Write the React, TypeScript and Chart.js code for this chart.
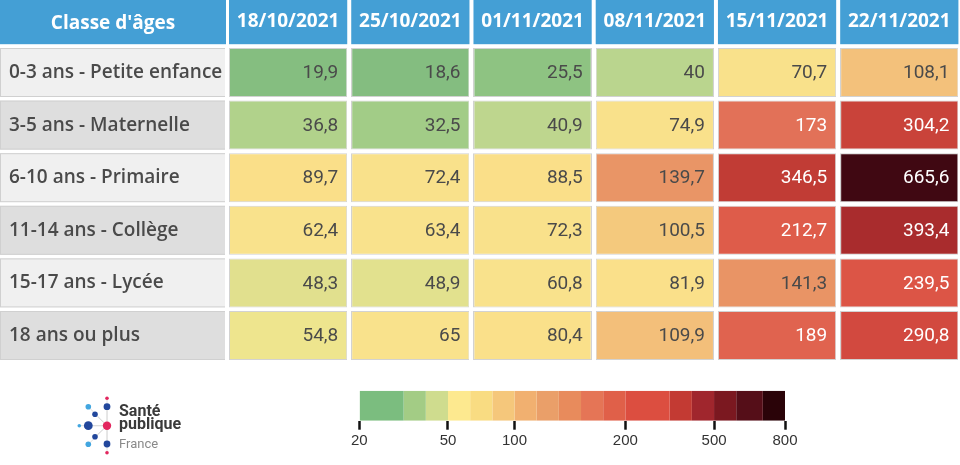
import React, { useEffect, useRef } from 'react';
import { Chart, registerables } from 'chart.js';

Chart.register(...registerables);

// ---------- DATA ----------
const headerLabel = "Classe d'âges";
const weeks = ['18/10/2021', '25/10/2021', '01/11/2021', '08/11/2021', '15/11/2021', '22/11/2021'];
const ageGroups = [
  '0-3 ans - Petite enfance',
  '3-5 ans - Maternelle',
  '6-10 ans - Primaire',
  '11-14 ans - Collège',
  '15-17 ans - Lycée',
  '18 ans ou plus',
];
// incidence rate per age group (same order as ageGroups), one list per week
const rate_18_10 = [19.9, 36.8, 89.7, 62.4, 48.3, 54.8];
const rate_25_10 = [18.6, 32.5, 72.4, 63.4, 48.9, 65];
const rate_01_11 = [25.5, 40.9, 88.5, 72.3, 60.8, 80.4];
const rate_08_11 = [40, 74.9, 139.7, 100.5, 81.9, 109.9];
const rate_15_11 = [70.7, 173, 346.5, 212.7, 141.3, 189];
const rate_22_11 = [108.1, 304.2, 665.6, 393.4, 239.5, 290.8];
const weeklyRates = [rate_18_10, rate_25_10, rate_01_11, rate_08_11, rate_15_11, rate_22_11];

// colour legend bins (edges) and tick labels
const legendEdges = [20, 30, 40, 50, 60, 80, 100, 120, 140, 160, 180, 200, 300, 400, 500, 600, 700, 800];
const legendTicks = [20, 50, 100, 200, 500, 800];

// ---------- STYLES ----------
const legendColors = [
  '#7bbd7f', '#a3cc85', '#cfdc8e', '#fde98f', '#f9dc82', '#f5c77b', '#f1b070', '#ea9f69',
  '#e88b5c', '#e57556', '#e06049', '#dc4e40', '#c33a33', '#a0262d', '#7b1820', '#550e18', '#2a0308',
];
// relative drawn width of each legend bin (the legend is not on a regular scale)
const legendSpans = [2, 1, 1, 1, 1, 1, 1, 1, 1, 1, 1, 2, 1, 1, 1, 1.2, 1];

const colorStopValues = [18, 20, 25, 30, 35, 40, 48, 55, 60, 90, 100, 110, 140, 175, 190, 240, 290, 305, 350, 400, 500, 670, 800];
const colorStopColors = [
  '#83bd80', '#85be80', '#8dc282', '#98c784', '#acd089', '#bad58e', '#e0e08e', '#eee58e', '#f9e28c',
  '#fadf89', '#f4c97d', '#f3bf7a', '#e99566', '#e26f57', '#e0624e', '#dc5546', '#d3493f', '#c8433a',
  '#c03b35', '#a62a2c', '#7b1820', '#3e0812', '#2a0308',
];

const HEADER_BLUE = '#449fd5';
const TEXT_DARK = '#4a4a4a';

function hexToRgb(h: string) {
  const n = parseInt(h.slice(1), 16);
  return [(n >> 16) & 255, (n >> 8) & 255, n & 255];
}
function cellColor(v: number): string {
  const vs = colorStopValues;
  const cs = colorStopColors;
  if (v <= vs[0]) return cs[0];
  for (let k = 1; k < vs.length; k++) {
    if (v <= vs[k]) {
      const t = (v - vs[k - 1]) / (vs[k] - vs[k - 1]);
      const a = hexToRgb(cs[k - 1]);
      const b = hexToRgb(cs[k]);
      const m = a.map((c, i) => Math.round(c + (b[i] - c) * t));
      return `rgb(${m[0]},${m[1]},${m[2]})`;
    }
  }
  return cs[cs.length - 1];
}
const fmt = (v: number) => String(v).replace('.', ',');

function unitPos(v: number) {
  const idx = legendEdges.indexOf(v);
  let s = 0;
  for (let k = 0; k < idx; k++) s += legendSpans[k];
  return s;
}
const legendTotal = legendSpans.reduce((a, b) => a + b, 0);

// ---------- PLUGINS ----------
const tablePlugin = {
  id: 'tableDecor',
  beforeDraw(chart: any) {
    const { ctx, chartArea } = chart;
    const xv = chart.scales.xv;
    const headerBottom = chartArea.top - 2;
    const labelRight = chartArea.left - 1;
    ctx.save();
    // header cells
    ctx.fillStyle = HEADER_BLUE;
    ctx.fillRect(0, 0, labelRight, headerBottom);
    for (let j = 0; j < weeks.length; j++) {
      const l = xv.getPixelForValue(j) + 2;
      const r = xv.getPixelForValue(j + 1) - 2;
      ctx.fillRect(l, 0, r - l, headerBottom);
    }
    ctx.fillStyle = '#ffffff';
    ctx.font = 'bold 19px "Open Sans"';
    ctx.textAlign = 'center';
    ctx.textBaseline = 'middle';
    ctx.fillText(headerLabel, labelRight / 2, headerBottom / 2 + 1);
    // row label backgrounds
    const meta = chart.getDatasetMeta(0);
    meta.data.forEach((bar: any, i: number) => {
      const { y, height } = bar.getProps(['y', 'height'], true);
      const top = y - height / 2;
      ctx.fillStyle = i % 2 === 0 ? '#f0f0f0' : '#dedede';
      ctx.fillRect(0, top, labelRight, height);
      ctx.strokeStyle = '#d0d0d0';
      ctx.lineWidth = 1;
      ctx.strokeRect(0.5, top + 0.5, labelRight - 1, height - 1);
    });
    ctx.restore();
  },
  afterDatasetsDraw(chart: any) {
    const { ctx } = chart;
    ctx.save();
    ctx.font = '19px Roboto';
    ctx.textAlign = 'right';
    ctx.textBaseline = 'middle';
    weeklyRates.forEach((rates, j) => {
      const meta = chart.getDatasetMeta(j);
      meta.data.forEach((bar: any, i: number) => {
        const { x, y } = bar.getProps(['x', 'y'], true);
        const v = rates[i];
        ctx.fillStyle = v >= 150 ? '#ffffff' : TEXT_DARK;
        ctx.fillText(fmt(v), x - 11, y + 1);
      });
    });
    ctx.restore();
  },
  afterDraw(chart: any) {
    // Santé publique France logo
    const { ctx } = chart;
    ctx.save();
    const cx = 107, cy = 425.7;
    const dark = '#22479c', light = '#42a6e0', red = '#e2265e';
    const dots: [number, number, number, string][] = [
      [107, 398.3, 1.8, red],
      [107, 406.7, 3.4, dark],
      [88.3, 406.7, 2.8, light],
      [95, 414.3, 2.8, dark],
      [88.3, 425.7, 4.4, dark],
      [79.3, 425.7, 1.8, light],
      [95, 436.7, 2.8, dark],
      [88.3, 444.3, 2.8, light],
      [107, 444, 3.4, dark],
      [107, 452.7, 1.8, red],
    ];
    ctx.strokeStyle = '#d8d8d8';
    ctx.lineWidth = 0.8;
    dots.forEach(([x, y]) => {
      ctx.beginPath();
      ctx.moveTo(cx, cy);
      ctx.lineTo(x, y);
      ctx.stroke();
    });
    dots.forEach(([x, y, r, c]) => {
      ctx.beginPath();
      ctx.arc(x, y, r, 0, Math.PI * 2);
      ctx.fillStyle = c;
      ctx.fill();
    });
    ctx.beginPath();
    ctx.arc(cx, cy, 4.2, 0, Math.PI * 2);
    ctx.fillStyle = red;
    ctx.fill();
    ctx.textAlign = 'left';
    ctx.textBaseline = 'alphabetic';
    ctx.fillStyle = '#3a3a3a';
    ctx.font = 'bold 16px Roboto';
    ctx.fillText('Santé', 119, 415.7);
    ctx.fillText('publique', 119, 429);
    ctx.fillStyle = '#8a8a8a';
    ctx.font = '13px Roboto';
    ctx.fillText('France', 119, 448.3);
    ctx.restore();
  },
};

export default function App() {
  const mainRef = useRef<HTMLCanvasElement>(null);
  const legendRef = useRef<HTMLCanvasElement>(null);

  useEffect(() => {
    const main = new Chart(mainRef.current as HTMLCanvasElement, {
      type: 'bar',
      data: {
        labels: ageGroups,
        datasets: weeklyRates.map((rates, j) => ({
          label: weeks[j],
          data: rates.map(() => 1), // each cell occupies one week column
          xAxisID: 'xv',
          yAxisID: 'y',
          backgroundColor: rates.map(cellColor),
          borderColor: '#d2d2d2',
          borderWidth: { left: 3, right: 3, top: 1, bottom: 1 },
          borderSkipped: false,
          inflateAmount: 0,
          barPercentage: 0.9316,
          categoryPercentage: 1,
        })),
      },
      options: {
        indexAxis: 'y',
        responsive: false,
        animation: false,
        events: [],
        layout: { padding: { left: 9, top: 0, right: 0, bottom: 103.2 } },
        plugins: { legend: { display: false }, tooltip: { enabled: false } },
        scales: {
          x: {
            type: 'category',
            labels: weeks,
            position: 'top',
            offset: true,
            z: 1,
            grid: { offset: true, color: '#ffffff', lineWidth: 4, drawTicks: false, z: 1 },
            border: { display: false },
            ticks: {
              color: '#ffffff',
              font: { family: 'Open Sans', size: 19, weight: 'bold' },
              padding: 13.4,
              autoSkip: false,
              maxRotation: 0,
              z: 2,
            },
            afterFit: (s: any) => { s.height = 46.2; },
          },
          xv: {
            type: 'linear',
            position: 'bottom',
            display: false,
            stacked: true,
            min: 0,
            max: weeks.length,
          },
          y: {
            type: 'category',
            labels: ageGroups,
            stacked: true,
            offset: true,
            grid: { display: false },
            border: { display: false },
            ticks: {
              crossAlign: 'far',
              color: TEXT_DARK,
              font: { family: 'Open Sans', size: 19, weight: 600 },
              padding: 0,
              autoSkip: false,
            },
            afterFit: (s: any) => { s.width = 218; },
          },
        },
      } as any,
      plugins: [tablePlugin],
    });

    const legend = new Chart(legendRef.current as HTMLCanvasElement, {
      type: 'bar',
      data: {
        labels: [''],
        datasets: legendColors.map((c, k) => ({
          label: `${legendEdges[k]}-${legendEdges[k + 1]}`,
          data: [legendSpans[k]],
          backgroundColor: c,
          borderWidth: 0,
          inflateAmount: 0,
          barPercentage: 1,
          categoryPercentage: 1,
        })),
      },
      options: {
        indexAxis: 'y',
        responsive: false,
        animation: false,
        events: [],
        layout: { padding: { left: 19.3, right: 25, top: 10.7, bottom: 0 } },
        plugins: { legend: { display: false }, tooltip: { enabled: false } },
        scales: {
          x: {
            type: 'linear',
            position: 'bottom',
            stacked: true,
            min: 0,
            max: legendTotal,
            afterBuildTicks: (axis: any) => {
              axis.ticks = legendTicks.map((v) => ({ value: unitPos(v) }));
            },
            ticks: {
              callback: (_v: any, idx: number) => String(legendTicks[idx]),
              color: '#333333',
              font: { family: 'Liberation Sans', size: 15 },
              padding: 2.3,
              autoSkip: false,
              maxRotation: 0,
            },
            grid: { drawOnChartArea: false, drawTicks: true, tickLength: 9, tickWidth: 2.5, tickColor: '#111111', z: 1 },
            border: { display: false },
            afterFit: (s: any) => { s.height = 44.3; },
          },
          y: { stacked: true, display: false },
        },
      } as any,
    });

    return () => {
      main.destroy();
      legend.destroy();
    };
  }, []);

  return (
    <div
      style={{
        position: 'fixed',
        left: 0,
        top: 0,
        width: 960,
        height: 465,
        overflow: 'hidden',
        background: '#ffffff',
      }}
    >
      <canvas ref={mainRef} width={964} height={465} style={{ position: 'absolute', left: 0, top: 0 }} />
      <canvas ref={legendRef} width={470} height={85} style={{ position: 'absolute', left: 340, top: 380 }} />
    </div>
  );
}
